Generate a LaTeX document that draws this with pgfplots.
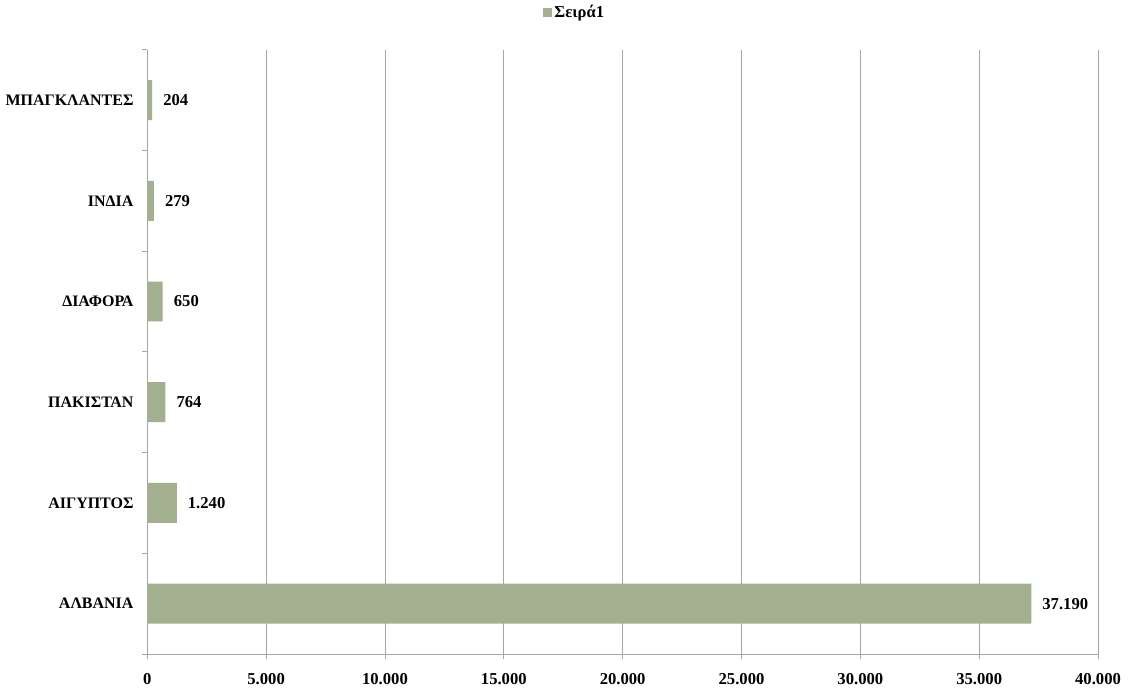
\documentclass[border=0pt]{standalone}
\usepackage{pgfplots}
\pgfplotsset{compat=1.18}
\usepackage{fontspec}
\setmainfont{Liberation Serif}
\definecolor{barc}{HTML}{A3B08F}
\begin{document}
\fontsize{12.5}{15}\selectfont\bfseries
\begin{tikzpicture}
\begin{axis}[
  name=ax,
  scale only axis,
  width=714pt, height=453.75pt,
  xbar, bar width=30pt,
  xmin=0, xmax=40000,
  ymin=-0.5, ymax=5.5,
  xtick={0,5000,...,40000},
  scaled x ticks=false,
  ytick={0,1,2,3,4,5},
  yticklabels={ΑΛΒΑΝΙΑ,ΑΙΓΥΠΤΟΣ,ΠΑΚΙΣΤΑΝ,ΔΙΑΦΟΡΑ,ΙΝΔΙΑ,ΜΠΑΓΚΛΑΝΤΕΣ},
  minor ytick={-0.5,0.5,...,5.5},
  axis x line*=bottom, axis y line*=left,
  axis line style={gray!70, -},
  xmajorgrids, major grid style={gray!70, line width=0.6pt},
  tick style={gray!70, line width=0.6pt},
  tick align=outside,
  major tick length=4pt,
  minor tick length=4pt,
  major y tick style={draw=none},
  /pgf/number format/.cd, 1000 sep={.}, fixed, precision=0, assume math mode=true,
  /pgfplots/.cd,
  xticklabel style={font=\fontsize{12.5}{15}\selectfont\bfseries, yshift=-6pt},
  yticklabel style={font=\fontsize{12}{15}\selectfont\bfseries, xshift=-2pt},
  nodes near coords,
  nodes near coords style={font=\fontsize{12.5}{15}\selectfont\bfseries, anchor=west, xshift=4pt},
  legend style={at={(0.45,1)}, anchor=south, yshift=18pt, draw=none, font=\fontsize{12.5}{15}\selectfont\bfseries},
  legend image code/.code={\fill[barc] (0cm,-0.1cm) rectangle (0.22cm,0.12cm);},
]
\addplot[fill=barc, draw=none] coordinates {(37190,0) (1240,1) (764,2) (650,3) (279,4) (204,5)};
\addlegendentry{Σειρά1}
\end{axis}
\path ([shift={(-109.5pt,-26.25pt)}]ax.south west) rectangle ([shift={(27pt,36pt)}]ax.north east);
\end{tikzpicture}
\end{document}
